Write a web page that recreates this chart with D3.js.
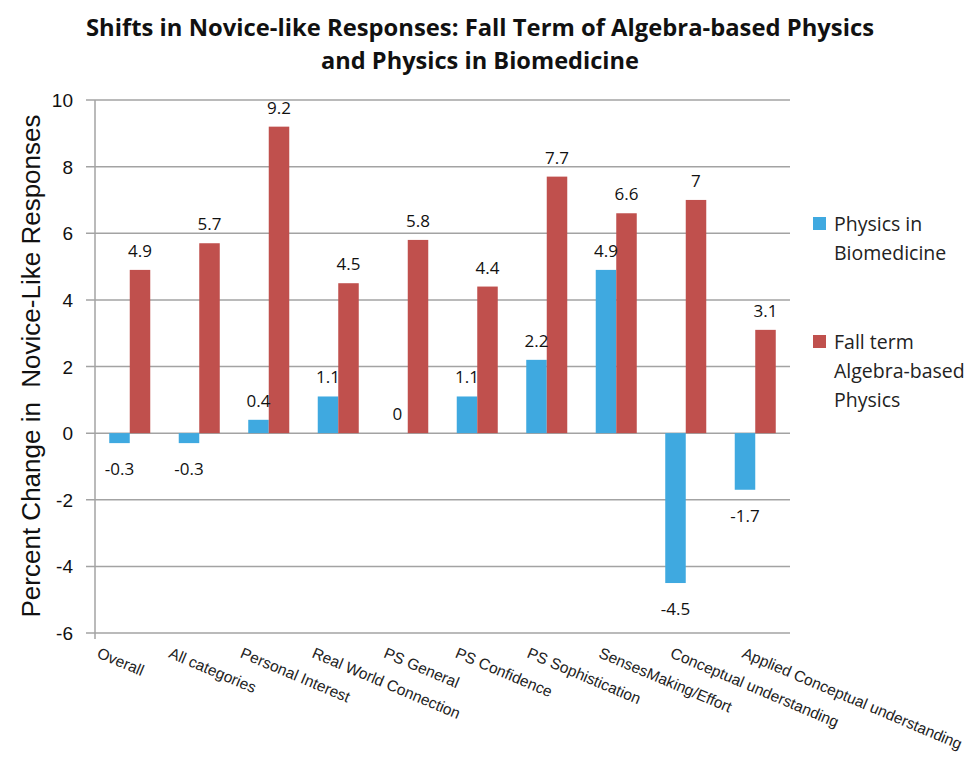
<!DOCTYPE html>
<html>
<head>
<meta charset="utf-8">
<script src="https://cdn.jsdelivr.net/npm/d3@7"></script>
<style>
  body { margin: 0; background: #fff; }
  text { fill: #111; }
</style>
</head>
<body>
<svg id="chart"></svg>
<script>
// chart data
const categories = ['Overall', 'All categories', 'Personal Interest', 'Real World Connection',
  'PS General', 'PS Confidence', 'PS Sophistication', 'SensesMaking/Effort',
  'Conceptual understanding', 'Applied Conceptual understanding'];
const seriesNames = ['Physics in Biomedicine', 'Fall term Algebra-based Physics'];
const biomedicine = [-0.3, -0.3, 0.4, 1.1, 0, 1.1, 2.2, 4.9, -4.5, -1.7];
const fallTerm = [4.9, 5.7, 9.2, 4.5, 5.8, 4.4, 7.7, 6.6, 7, 3.1];
const yTicks = [-6, -4, -2, 0, 2, 4, 6, 8, 10];
const colors = ['#3FA9E0', '#C0504D'];

const width = 978, height = 763;
const margin = { top: 100, right: 188, bottom: 130, left: 95 };

const svg = d3.select('#chart').attr('width', width).attr('height', height);

// scales
const x0 = d3.scaleBand()
  .domain(categories)
  .range([margin.left, width - margin.right])
  .paddingInner(0.41)
  .paddingOuter(0.205);
const x1 = d3.scaleBand().domain([0, 1]).range([0, x0.bandwidth()]);
const y = d3.scaleLinear().domain([-6, 10]).range([height - margin.bottom, margin.top]);
// rotated labels drift a bit wider than the bands
const xLabel = d3.scalePoint().domain(categories).range([96, 741]);

// gridlines
svg.append('g')
  .selectAll('line')
  .data(yTicks)
  .join('line')
  .attr('x1', margin.left - 9)
  .attr('x2', width - margin.right)
  .attr('y1', d => y(d))
  .attr('y2', d => y(d))
  .attr('stroke', '#a3a3a3')
  .attr('stroke-width', 1.5);

// y axis line
svg.append('line')
  .attr('x1', margin.left).attr('x2', margin.left)
  .attr('y1', y(10)).attr('y2', y(-6) + 6)
  .attr('stroke', '#a3a3a3')
  .attr('stroke-width', 1.5);

// y tick labels
svg.append('g')
  .selectAll('text')
  .data(yTicks)
  .join('text')
  .attr('x', 73)
  .attr('y', d => y(d) + 7)
  .attr('text-anchor', 'end')
  .style('font', '19px "Liberation Sans", Arial, sans-serif')
  .text(d => d);

// bars
const rows = categories.map((c, i) => ({ cat: c, vals: [biomedicine[i], fallTerm[i]] }));
const groups = svg.append('g')
  .selectAll('g')
  .data(rows)
  .join('g')
  .attr('transform', d => 'translate(' + x0(d.cat) + ',0)');

groups.selectAll('rect')
  .data(d => d.vals.map((v, s) => ({ v, s })))
  .join('rect')
  .attr('x', d => x1(d.s))
  .attr('width', x1.bandwidth())
  .attr('y', d => y(Math.max(0, d.v)))
  .attr('height', d => Math.abs(y(d.v) - y(0)))
  .attr('fill', d => colors[d.s]);

// value labels
groups.selectAll('text')
  .data(d => d.vals.map((v, s) => ({ v, s })))
  .join('text')
  .attr('x', d => x1(d.s) + x1.bandwidth() / 2)
  .attr('y', d => d.v < 0 ? y(d.v) + 32 : y(d.v) - 13)
  .attr('text-anchor', 'middle')
  .style('font', '17px "Open Sans", sans-serif')
  .text(d => d.v);

// category labels, rotated
svg.append('g')
  .selectAll('text')
  .data(categories)
  .join('text')
  .attr('transform', d => 'translate(' + xLabel(d) + ',657) rotate(23)')
  .style('font', '15.5px "Liberation Sans", Arial, sans-serif')
  .style('fill', '#222')
  .text(d => d);

// y axis title
svg.append('text')
  .attr('transform', 'translate(40,366) rotate(-90)')
  .attr('text-anchor', 'middle')
  .style('font', '26px "Liberation Sans", Arial, sans-serif')
  .style('white-space', 'pre')
  .text('Percent Change in  Novice-Like Responses');

// chart title
const titleLines = ['Shifts in Novice-like Responses: Fall Term of Algebra-based Physics',
  'and Physics in Biomedicine'];
svg.append('text')
  .attr('x', 480).attr('y', 36)
  .attr('text-anchor', 'middle')
  .attr('textLength', 788)
  .attr('lengthAdjust', 'spacingAndGlyphs')
  .style('font', 'bold 23px "Open Sans", sans-serif')
  .text(titleLines[0]);
svg.append('text')
  .attr('x', 480).attr('y', 69)
  .attr('text-anchor', 'middle')
  .attr('textLength', 318)
  .attr('lengthAdjust', 'spacingAndGlyphs')
  .style('font', 'bold 23px "Open Sans", sans-serif')
  .text(titleLines[1]);

// legend
const legendLines = [['Physics in', 'Biomedicine'], ['Fall term', 'Algebra-based', 'Physics']];
const legendTop = [217, 335];
const legend = svg.append('g')
  .selectAll('g')
  .data(seriesNames)
  .join('g')
  .attr('transform', (d, i) => 'translate(813,' + legendTop[i] + ')');
legend.append('rect')
  .attr('width', 13).attr('height', 13)
  .attr('fill', (d, i) => colors[i]);
legend.each(function (d, i) {
  d3.select(this).selectAll('text')
    .data(legendLines[i])
    .join('text')
    .attr('x', 21)
    .attr('y', (t, j) => 14 + j * 29)
    .style('font', '19.5px "Open Sans", sans-serif')
    .style('fill', '#222')
    .text(t => t);
});
</script>
</body>
</html>
